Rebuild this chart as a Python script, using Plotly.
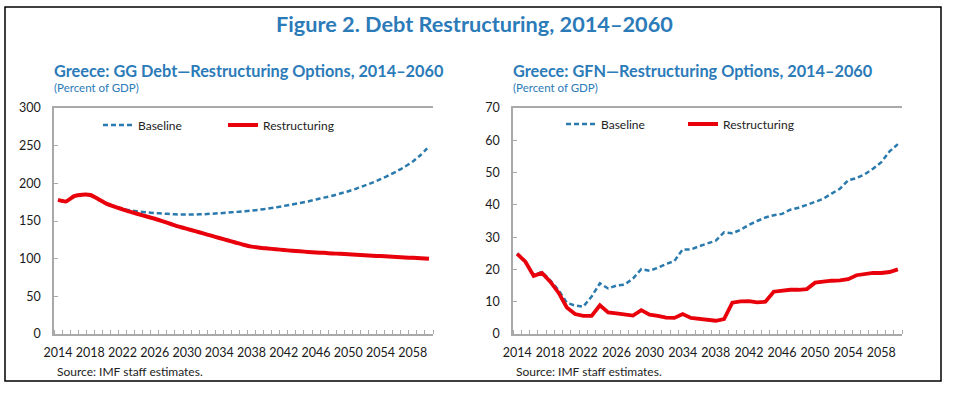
import plotly.graph_objects as go

W, H = 965, 398

years = list(range(2014, 2061))
tick_years = list(range(2014, 2059, 4))

debt_baseline = [178, 176, 183, 185, 184.5, 179, 173, 169, 166, 164,
                 162.5, 161.5, 160.5, 159.8, 159.2, 158.7, 158.5, 158.7, 159, 159.6,
                 160.3, 161, 162, 162.8, 163.8, 165, 166.5, 168, 170, 172,
                 174, 176, 178.5, 181, 183.5, 186.5, 189.5, 193, 197, 201,
                 205.5, 210.5, 216, 222, 229, 238, 249]
debt_restr = [178, 176, 183, 185, 184.5, 179, 173, 169, 165.5, 162,
              159, 156, 153, 149.5, 146, 142.5, 139.5, 136.5, 133.5, 130.5,
              127.5, 124.5, 121.5, 118.5, 116, 114.5, 113.5, 112.5, 111.5, 110.5,
              109.7, 109, 108.3, 107.7, 107, 106.4, 105.8, 105.2, 104.6, 104,
              103.4, 102.8, 102.2, 101.6, 101.1, 100.6, 100]

gfn_baseline = [25, 22.4, 18, 19.3, 16.6, 13.6, 9.7, 8.8, 8.5, 11.6,
                15.7, 14.1, 15.0, 15.3, 17.2, 20.1, 19.6, 20.5, 21.7, 22.6,
                26.2, 26.2, 27.2, 28.1, 28.9, 31.5, 31.2, 32.3, 33.8, 35.0,
                36.1, 36.8, 37.2, 38.5, 39.1, 40.0, 41.0, 41.9, 43.5, 45.0,
                47.6, 48.3, 49.5, 51.2, 53.2, 56.6, 58.8]
gfn_restr = [24.8, 22.4, 18.0, 18.9, 16.2, 12.8, 8.2, 6.2, 5.6, 5.6,
             8.9, 6.7, 6.4, 5.9, 5.7, 7.4, 6.0, 5.6, 5.1, 5.0,
             6.2, 5.0, 4.7, 4.4, 4.1, 4.6, 9.7, 10.1, 10.2, 9.8,
             10.0, 13.1, 13.5, 13.7, 13.7, 13.9, 15.9, 16.3, 16.5, 16.6,
             17.0, 18.2, 18.6, 18.9, 18.9, 19.2, 20.0]

BLUE_TXT = "#2b7bb9"
BLUE_LINE = "#2a7aad"
RED = "#e8000b"
AXIS = "#a9a9a9"
FONT = "Lato"


def px(x):
    return x / W


def py(y):
    return (H - y) / H


fig = go.Figure()

fig.add_trace(go.Scatter(x=years, y=debt_baseline, name="Baseline", mode="lines",
                         line=dict(color=BLUE_LINE, width=2.5, dash="5px,3px", shape="spline", smoothing=0.6),
                         xaxis="x", yaxis="y", legend="legend"))
fig.add_trace(go.Scatter(x=years, y=debt_restr, name="Restructuring", mode="lines",
                         line=dict(color=RED, width=4, shape="spline", smoothing=0.6),
                         xaxis="x", yaxis="y", legend="legend"))
fig.add_trace(go.Scatter(x=years, y=gfn_baseline, name="Baseline", mode="lines",
                         line=dict(color=BLUE_LINE, width=2.5, dash="5px,3px"),
                         xaxis="x2", yaxis="y2", legend="legend2"))
fig.add_trace(go.Scatter(x=years, y=gfn_restr, name="Restructuring", mode="lines",
                         line=dict(color=RED, width=3.8),
                         xaxis="x2", yaxis="y2", legend="legend2"))

tickfont = dict(family=FONT, size=12.5, color="#1a1a1a")

xcommon = dict(range=[2013.5, 2060.5], tickmode="array", tickvals=tick_years,
               ticktext=[str(t) for t in tick_years], ticks="", showgrid=False,
               zeroline=False, showline=True, linecolor=AXIS, linewidth=1.5, mirror=True,
               tickfont=tickfont, ticklabelstandoff=6, automargin=False,
               minor=dict(ticks="inside", tick0=2013.5, dtick=1, ticklen=4,
                          tickcolor=AXIS, tickwidth=1, showgrid=False))

ycommon = dict(showgrid=False, zeroline=False, showline=True, linecolor=AXIS, linewidth=1.5,
               ticks="inside", ticklen=4, tickcolor=AXIS, tickfont=tickfont, automargin=False)

dom_y = [py(334), py(108)]

fig.update_layout(
    width=W, height=H, autosize=False,
    margin=dict(l=0, r=0, t=0, b=0),
    paper_bgcolor="white", plot_bgcolor="white",
    font=dict(family=FONT, color="#222222"),
    xaxis=dict(domain=[px(54), px(433)], anchor="y", **xcommon),
    yaxis=dict(domain=dom_y, anchor="x", range=[0, 300], dtick=50,
               ticklabelstandoff=9, **ycommon),
    yaxis3=dict(overlaying="y", anchor="x", side="right", range=[0, 300], dtick=50,
                ticklabelstandoff=12, **ycommon),
    xaxis2=dict(domain=[px(513), px(902)], anchor="y2", **xcommon),
    yaxis2=dict(domain=dom_y, anchor="x2", range=[0, 70], dtick=10,
                ticklabelstandoff=9, **ycommon),
    yaxis4=dict(overlaying="y2", anchor="x2", side="right", range=[0, 70], dtick=10,
                ticklabelstandoff=12, **ycommon),
    legend=dict(orientation="h", x=px(98), y=py(125), xanchor="left", yanchor="middle",
                bgcolor="rgba(0,0,0,0)", font=dict(family=FONT, size=12, color="#222222"),
                entrywidth=80, itemwidth=30),
    legend2=dict(orientation="h", x=px(561), y=py(124), xanchor="left", yanchor="middle",
                 bgcolor="rgba(0,0,0,0)", font=dict(family=FONT, size=12, color="#222222"),
                 entrywidth=77, itemwidth=30),
    shapes=[dict(type="rect", xref="paper", yref="paper", x0=px(5), x1=px(941),
                 y0=py(381), y1=py(7), line=dict(color="black", width=1.5))],
)

annotations = [
    dict(text="<b>Figure 2. Debt Restructuring, 2014–2060</b>", x=px(474), y=py(24),
         xanchor="center", yanchor="middle", font=dict(family=FONT, size=21.7, color=BLUE_TXT)),
    dict(text="<b>Greece: GG Debt—Restructuring Options, 2014–2060</b>", x=px(52), y=py(70),
         xanchor="left", yanchor="middle", font=dict(family=FONT, size=16.3, color=BLUE_TXT)),
    dict(text="(Percent of GDP)", x=px(52), y=py(88),
         xanchor="left", yanchor="middle", font=dict(family=FONT, size=11.5, color=BLUE_TXT)),
    dict(text="<b>Greece: GFN—Restructuring Options, 2014–2060</b>", x=px(511), y=py(70),
         xanchor="left", yanchor="middle", font=dict(family=FONT, size=16.3, color=BLUE_TXT)),
    dict(text="(Percent of GDP)", x=px(511), y=py(88),
         xanchor="left", yanchor="middle", font=dict(family=FONT, size=11.5, color=BLUE_TXT)),
    dict(text="Source: IMF staff estimates.", x=px(55), y=py(371),
         xanchor="left", yanchor="middle", font=dict(family=FONT, size=12, color="#222222")),
    dict(text="Source: IMF staff estimates.", x=px(514), y=py(371),
         xanchor="left", yanchor="middle", font=dict(family=FONT, size=12, color="#222222")),
]
for a in annotations:
    a.update(xref="paper", yref="paper", showarrow=False)
fig.update_layout(annotations=annotations)

fig.write_html("out.html", config={"displayModeBar": False},
               post_script="document.body.style.margin='0';document.body.style.overflow='hidden';")
